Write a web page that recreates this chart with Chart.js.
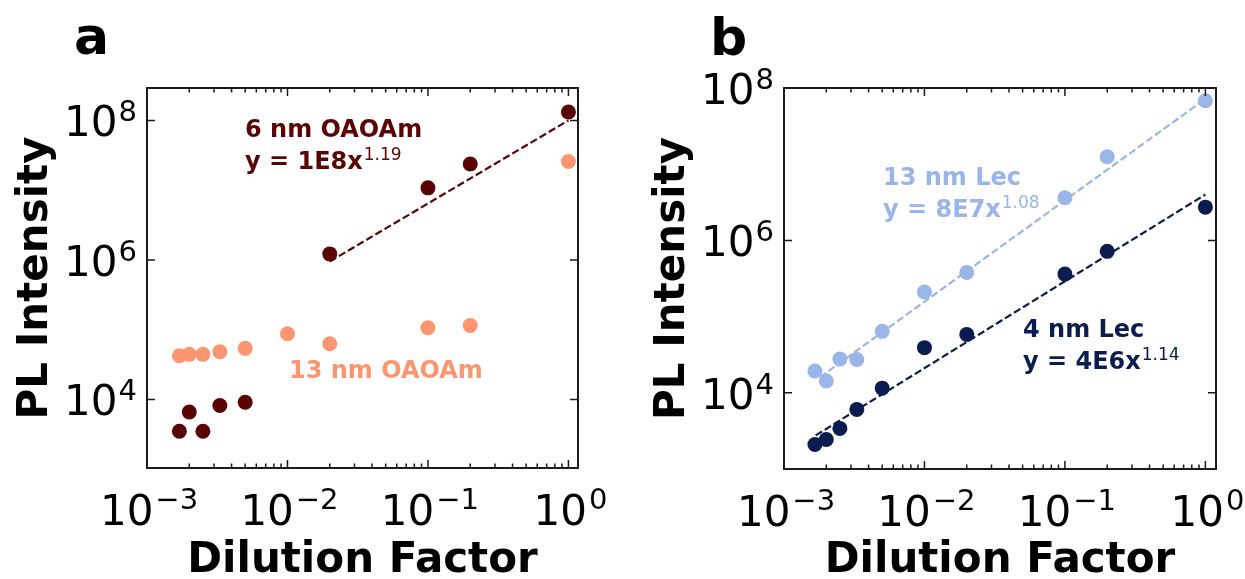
<!DOCTYPE html>
<html><head><meta charset="utf-8">
<script src="https://cdn.jsdelivr.net/npm/chart.js@4.4.1/dist/chart.umd.min.js"></script>
<style>
html,body{margin:0;padding:0;background:#fff;}
#wrap{position:relative;width:1245px;height:579px;overflow:hidden;}
canvas{position:absolute;top:0;}
</style></head><body>
<div id="wrap">
<canvas id="ca" width="622" height="579" style="left:0px"></canvas>
<canvas id="cb" width="623" height="579" style="left:622px"></canvas>
</div>
<script>
// ---- Panel a data ----
const dilution6 = [0.0017, 0.002, 0.0025, 0.0033, 0.005, 0.02, 0.1, 0.2, 1];
const intensity6nmOAOAm = [3500, 6600, 3500, 8200, 9100, 1.22e6, 1.08e7, 2.37e7, 1.32e8];
const dilution13 = [0.0017, 0.002, 0.0025, 0.0033, 0.005, 0.01, 0.02, 0.1, 0.2, 1];
const intensity13nmOAOAm = [42300, 44300, 44300, 48200, 54000, 87500, 62800, 106700, 115000, 2.58e7];
const fit6X = [0.02, 1];
const fit6Y = [9.5e5, 1e8];
// ---- Panel b data ----
const dilutionLec = [0.00166, 0.002, 0.0025, 0.0033, 0.005, 0.01, 0.02, 0.1, 0.2, 1];
const intensity13nmLec = [19300, 14300, 27700, 27400, 64000, 210000, 380000, 3.63e6, 1.25e7, 6.8e7];
const intensity4nmLec = [2100, 2440, 3410, 6060, 11500, 39100, 58400, 361000, 718000, 2.73e6];
const fit13X = [0.0018, 1];
const fit13Y = [1.6e4, 7.2e7];
const fit4X = [0.00168, 1];
const fit4Y = [2760, 4e6];
// ---- ticks ----
const xTickValues = [1e-3, 1e-2, 1e-1, 1];
const xTickExponents = ['\u22123', '\u22122', '\u22121', '0'];
const yTickValues = [1e4, 1e6, 1e8];
const yTickExponents = ['4', '6', '8'];

const C_MAROON = '#5a0404';
const C_ORANGE = '#fc9670';
const C_LIGHTBLUE = '#9ab5e8';
const C_NAVY = '#0b1d4e';
const FONT = '"DejaVu Sans", sans-serif';

function pts(xs, ys) { return xs.map((x, i) => ({x: x, y: ys[i]})); }

function drawPow(ctx, base, exp, x, y, align, bf, sf, rise, gap) {
  ctx.font = bf; const wb = ctx.measureText(base).width;
  ctx.font = sf; const we = ctx.measureText(exp).width;
  const total = wb + gap + we;
  let x0 = x;
  if (align === 'center') x0 = x - total / 2;
  else if (align === 'right') x0 = x - total;
  ctx.textAlign = 'left'; ctx.textBaseline = 'alphabetic';
  ctx.font = bf; ctx.fillText(base, x0, y);
  ctx.font = sf; ctx.fillText(exp, x0 + wb + gap, y - rise);
}

const framePlugin = {
  id: 'frameTicks',
  afterDraw(chart, args, o) {
    const ctx = chart.ctx, a = chart.chartArea;
    const xs = chart.scales.x, ys = chart.scales.y;
    ctx.save();
    ctx.strokeStyle = '#1a1a1a';
    ctx.lineWidth = 1.5;
    const xmin = xs.min, xmax = xs.max;
    for (let d = -3; d <= 0; d++) {
      for (let m = 1; m <= 9; m++) {
        const v = m * Math.pow(10, d);
        if (v < xmin * 0.999 || v > xmax) continue;
        const px = xs.getPixelForValue(v);
        const len = m === 1 ? 8 : 4.5;
        ctx.beginPath();
        ctx.moveTo(px, a.bottom); ctx.lineTo(px, a.bottom - len);
        ctx.moveTo(px, a.top); ctx.lineTo(px, a.top + len);
        ctx.stroke();
      }
    }
    yTickValues.forEach(v => {
      const py = ys.getPixelForValue(v);
      ctx.beginPath();
      ctx.moveTo(a.left, py); ctx.lineTo(a.left + 8, py);
      ctx.moveTo(a.right, py); ctx.lineTo(a.right - 8, py);
      ctx.stroke();
    });
    ctx.lineWidth = 2;
    ctx.strokeRect(a.left, a.top, a.right - a.left, a.bottom - a.top);
    ctx.fillStyle = '#000';
    xTickValues.forEach((v, i) => {
      const px = xs.getPixelForValue(v);
      drawPow(ctx, '10', xTickExponents[i], px + 2, a.bottom + 57, 'center',
        '42px ' + FONT, '29px ' + FONT, 16, 2);
    });
    yTickValues.forEach((v, i) => {
      const py = ys.getPixelForValue(v);
      drawPow(ctx, '10', yTickExponents[i], a.left - 10, py + 16, 'right',
        '42px ' + FONT, '29px ' + FONT, 15, 1);
    });
    ctx.font = 'bold 42px ' + FONT;
    ctx.textAlign = 'center'; ctx.textBaseline = 'alphabetic';
    ctx.fillText('Dilution Factor', (a.left + a.right) / 2, 572);
    ctx.save();
    ctx.translate(o.yTitleX, (a.top + a.bottom) / 2);
    ctx.rotate(-Math.PI / 2);
    ctx.fillText('PL Intensity', 0, 0);
    ctx.restore();
    ctx.font = 'bold 52px ' + FONT;
    ctx.textAlign = 'left';
    ctx.fillText(o.letter, o.letterX, o.letterY);
    (o.notes || []).forEach(n => {
      ctx.fillStyle = n.color;
      ctx.font = 'bold 24px ' + FONT;
      ctx.textAlign = 'left';
      ctx.fillText(n.title, n.x, n.y);
      if (n.eq) {
        drawPow(ctx, n.eq, n.exp, n.x, n.y + 32, 'left',
          'bold 24px ' + FONT, '17px ' + FONT, 9, 1);
      }
    });
    ctx.restore();
  }
};

function scatterSet(xs, ys, color) {
  return { data: pts(xs, ys), backgroundColor: color, borderColor: color,
    pointRadius: 7.5, pointHoverRadius: 7.5, pointBorderWidth: 0, showLine: false };
}
function fitSet(xs, ys, color) {
  return { data: pts(xs, ys), borderColor: color, backgroundColor: color,
    borderWidth: 2.2, borderDash: [7.4, 3.2], pointRadius: 0, showLine: true, fill: false };
}

function makeChart(id, pad, xr, yr, datasets, opts) {
  return new Chart(document.getElementById(id), {
    type: 'scatter',
    data: { datasets: datasets },
    options: {
      responsive: false, animation: false, events: [],
      layout: { padding: pad },
      plugins: { legend: { display: false }, tooltip: { enabled: false }, frameTicks: opts },
      scales: {
        x: { type: 'logarithmic', min: xr[0], max: xr[1], display: false },
        y: { type: 'logarithmic', min: yr[0], max: yr[1], display: false }
      }
    },
    plugins: [framePlugin]
  });
}

makeChart('ca', {left: 147, top: 88, right: 44, bottom: 111}, [1e-3, 1.17], [1.04e3, 2.92e8], [
  scatterSet(dilution6, intensity6nmOAOAm, C_MAROON),
  scatterSet(dilution13, intensity13nmOAOAm, C_ORANGE),
  fitSet(fit6X, fit6Y, C_MAROON)
], {
  letter: 'a', letterX: 74, letterY: 54, yTitleX: 47,
  notes: [
    {title: '6 nm OAOAm', eq: 'y = 1E8x', exp: '1.19', x: 245, y: 137, color: C_MAROON},
    {title: '13 nm OAOAm', x: 289, y: 378, color: C_ORANGE}
  ]
});

makeChart('cb', {left: 162, top: 88, right: 29, bottom: 110}, [1e-3, 1.19], [1e3, 1e8], [
  scatterSet(dilutionLec, intensity13nmLec, C_LIGHTBLUE),
  scatterSet(dilutionLec, intensity4nmLec, C_NAVY),
  fitSet(fit13X, fit13Y, C_LIGHTBLUE),
  fitSet(fit4X, fit4Y, C_NAVY)
], {
  letter: 'b', letterX: 88, letterY: 55, yTitleX: 62,
  notes: [
    {title: '13 nm Lec', eq: 'y = 8E7x', exp: '1.08', x: 261, y: 185, color: C_LIGHTBLUE},
    {title: '4 nm Lec', eq: 'y = 4E6x', exp: '1.14', x: 401, y: 337, color: C_NAVY}
  ]
});
</script>
</body></html>
